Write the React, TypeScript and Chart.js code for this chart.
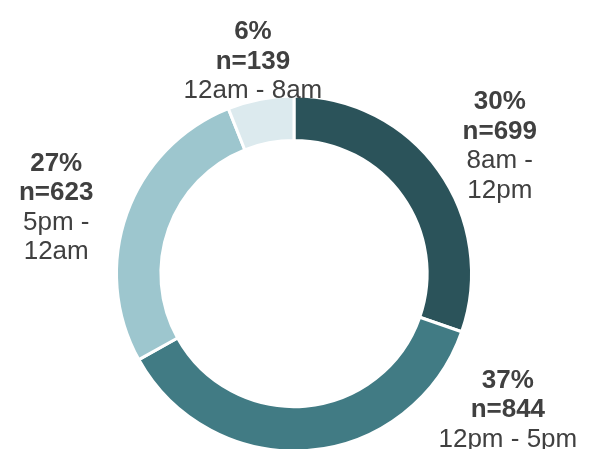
import React, { useEffect, useRef } from "react";
import { Chart, registerables } from "chart.js";

Chart.register(...registerables);

// ---- data ----
const categories = ["8am - 12pm", "12pm - 5pm", "5pm - 12am", "12am - 8am"];
const categoryLines = [["8am -", "12pm"], ["12pm - 5pm"], ["5pm -", "12am"], ["12am - 8am"]];
const counts = [699, 844, 623, 139];
const colors = ["#2b535a", "#417b84", "#9dc6ce", "#dceaee"];

// ---- label style ----
const FONT_FAMILY = '"Liberation Sans", Arial, Helvetica, sans-serif';
const FONT_SIZE = 26;
const LINE_H = 29.5;
const TEXT_COLOR = "#404040";
const LABEL_GAP = 75;
const LABEL_DROP = 17;
const LABEL_TOP = 7;
const LABEL_BOTTOM_EXTRA = 3;

const outLabels = {
  id: "outLabels",
  afterDatasetsDraw(chart: any) {
    const ctx = chart.ctx as CanvasRenderingContext2D;
    const meta = chart.getDatasetMeta(0);
    const values = chart.data.datasets[0].data as number[];
    const total = values.reduce((a, b) => a + b, 0);
    const bottomBound = chart.height + LABEL_BOTTOM_EXTRA;
    ctx.save();
    ctx.fillStyle = TEXT_COLOR;
    ctx.textAlign = "center";
    ctx.textBaseline = "alphabetic";
    meta.data.forEach((el: any, i: number) => {
      const { x, y, startAngle, endAngle, outerRadius } = el.getProps(
        ["x", "y", "startAngle", "endAngle", "outerRadius"],
        true
      );
      const mid = (startAngle + endAngle) / 2;
      const dist = outerRadius + LABEL_GAP;
      const v = values[i];
      const lines = [Math.round((v / total) * 100) + "%", "n=" + v, ...categoryLines[i]];
      const h = lines.length * LINE_H;
      const cos = Math.cos(mid);
      const sin = Math.sin(mid);
      let cx = x + cos * dist;
      let cy = y + sin * dist + LABEL_DROP;
      if (cy - h / 2 < LABEL_TOP) {
        // pull inward along the ray
        const targetY = LABEL_TOP + h / 2;
        const t = (targetY - y) / sin;
        cx = x + cos * t;
        cy = targetY;
      } else if (cy + h / 2 > bottomBound) {
        // slide along the label circle
        cy = bottomBound - h / 2;
        const dy = cy - y;
        cx = x + Math.sign(cos || 1) * Math.sqrt(Math.max(dist * dist - dy * dy, 0));
      }
      const capHalf = FONT_SIZE * 0.358;
      lines.forEach((line, li) => {
        ctx.font = (li < 2 ? "bold " : "") + FONT_SIZE + "px " + FONT_FAMILY;
        const lc = cy - h / 2 + LINE_H * (li + 0.5);
        ctx.fillText(line, cx, lc + capHalf);
      });
    });
    ctx.restore();
  },
};

export default function App() {
  const ref = useRef<HTMLCanvasElement | null>(null);
  useEffect(() => {
    if (!ref.current) return;
    const chart = new Chart(ref.current, {
      type: "doughnut",
      data: {
        labels: categories,
        datasets: [
          {
            data: counts,
            backgroundColor: colors,
            borderColor: "#ffffff",
            borderWidth: 3,
            clip: false as any,
          },
        ],
      },
      options: {
        animation: false,
        responsive: true,
        maintainAspectRatio: false,
        events: [],
        radius: 177.5,
        cutout: "75%",
        layout: { padding: { top: 90, bottom: 0, left: 0, right: 2 } },
        plugins: {
          legend: { display: false },
          tooltip: { enabled: false },
        },
      } as any,
      plugins: [outLabels],
    });
    return () => chart.destroy();
  }, []);
  return (
    <div style={{ position: "relative", width: "100%", height: 441 }}>
      <canvas ref={ref} />
    </div>
  );
}
